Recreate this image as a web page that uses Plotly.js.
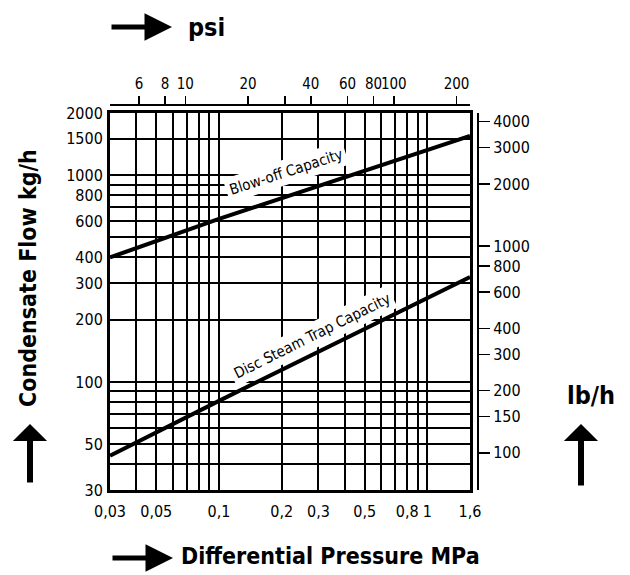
<!DOCTYPE html>
<html>
<head>
<meta charset="utf-8">
<script src="https://cdn.plot.ly/plotly-3.0.1.min.js"></script>
<style>html,body{margin:0;padding:0;background:#fff;}#chart{width:630px;height:575px;}</style>
</head>
<body>
<div id="chart"></div>
<script>
// ---- data ----
const pressureMPa = [0.03, 0.1, 1.6];
const blowOffKg = [400, 615, 1550];
const discTrapKg = [44, 81, 322];

const mpaTicks  = [0.03,0.04,0.05,0.06,0.07,0.08,0.09,0.1,0.2,0.3,0.4,0.5,0.6,0.7,0.8,0.9,1,1.6];
const mpaLabels = ['0,03','','0,05','','','','','0,1','0,2','0,3','','0,5','','','0,8','','1','1,6'];
const kgTicks   = [30,40,50,60,70,80,90,100,200,300,400,500,600,700,800,900,1000,1500,2000];
const kgLabels  = ['30','','50','','','','','100','200','300','400','','600','','800','','1000','1500','2000'];
const psiTicks  = [6,8,10,20,30,40,60,80,100,200];
const psiLabels = ['6','8','10','20','','40','60','80','100','200'];
const lbTicks   = [100,150,200,300,400,600,800,1000,2000,3000,4000];

const mpaRange = [0.03, 1.6];
const kgRange = [30, 2000];
const PSI_PER_MPA = 145.038;
const LB_PER_KG = 2.20462;

const FONT = '"Liberation Sans Narrow", "DejaVu Sans Condensed", "Arial Narrow", sans-serif';
const L = Math.log10;

const traces = [
  {x: pressureMPa, y: blowOffKg, mode: 'lines', line: {color: '#000', width: 4}, hoverinfo: 'skip', showlegend: false},
  {x: pressureMPa, y: discTrapKg, mode: 'lines', line: {color: '#000', width: 4}, hoverinfo: 'skip', showlegend: false},
  {x: mpaRange.map(v => v * PSI_PER_MPA), y: kgRange, xaxis: 'x2', yaxis: 'y', mode: 'lines', opacity: 0, hoverinfo: 'skip', showlegend: false},
  {x: mpaRange, y: kgRange.map(v => v * LB_PER_KG), xaxis: 'x', yaxis: 'y2', mode: 'lines', opacity: 0, hoverinfo: 'skip', showlegend: false}
];

const W = 420, H = 440, ML = 110, MT = 50;
const px = v => (v - ML) / W;        // pixel x -> paper
const py = v => (MT + H - v) / H;    // pixel y -> paper

const tickFont = {family: FONT, size: 16, color: '#000'};
const psiFont = {family: FONT, size: 15, color: '#000'};
const bold = {family: FONT, size: 23, color: '#000', weight: 'bold'};
const C = {xanchor: 'center', yanchor: 'middle'};

const layout = {
  width: 630, height: 575,
  margin: {l: ML, r: 630 - ML - W, t: MT, b: 575 - MT - H},
  paper_bgcolor: '#fff', plot_bgcolor: '#fff',
  showlegend: false,
  xaxis: {
    type: 'log', range: [L(mpaRange[0]), L(mpaRange[1])], domain: [0, 360 / W],
    tickvals: mpaTicks, ticktext: mpaLabels, ticks: '', ticklabelstandoff: 5, tickangle: 0,
    showgrid: true, gridcolor: '#000', gridwidth: 2,
    showline: true, linecolor: '#000', linewidth: 3, mirror: true,
    zeroline: false, tickfont: tickFont, fixedrange: true
  },
  yaxis: {
    type: 'log', range: [L(kgRange[0]), L(kgRange[1])], domain: [0, 377 / H],
    tickvals: kgTicks, ticktext: kgLabels, ticks: '', ticklabelstandoff: 1,
    showgrid: true, gridcolor: '#000', gridwidth: 2,
    showline: true, linecolor: '#000', linewidth: 3, mirror: true,
    zeroline: false, tickfont: tickFont, fixedrange: true
  },
  xaxis2: {
    type: 'log', overlaying: 'x', side: 'top', anchor: 'free', position: py(105),
    range: [L(mpaRange[0] * PSI_PER_MPA), L(mpaRange[1] * PSI_PER_MPA)],
    tickvals: psiTicks, ticktext: psiLabels, ticks: 'outside', ticklen: 8, tickwidth: 1.5, tickcolor: '#000',
    tickangle: 0, ticklabelstandoff: 1,
    showgrid: false, showline: true, linecolor: '#000', linewidth: 2,
    zeroline: false, tickfont: psiFont, fixedrange: true
  },
  yaxis2: {
    type: 'log', overlaying: 'y', side: 'right', anchor: 'free', position: px(478),
    range: [L(kgRange[0] * LB_PER_KG), L(kgRange[1] * LB_PER_KG)],
    tickvals: lbTicks, ticktext: lbTicks.map(String), ticks: 'outside', ticklen: 11, tickwidth: 1.5, tickcolor: '#000',
    showgrid: false, showline: true, linecolor: '#000', linewidth: 2,
    zeroline: false, tickfont: tickFont, fixedrange: true
  },
  annotations: [
    Object.assign({xref: 'x', yref: 'y', x: L(0.2096), y: 3.016, text: 'Blow-off Capacity', showarrow: false,
     textangle: -18, bgcolor: '#fff', borderpad: 3, font: {family: FONT, size: 15, color: '#000'}}, C),
    Object.assign({xref: 'x', yref: 'y', x: -0.554, y: 2.222, text: 'Disc Steam Trap Capacity', showarrow: false,
     textangle: -26.4, bgcolor: '#fff', borderpad: 3, font: {family: FONT, size: 15, color: '#000'}}, C),
    Object.assign({xref: 'paper', yref: 'paper', x: px(206), y: py(27), text: '<b>psi</b>', showarrow: false, font: Object.assign({}, bold, {size: 25})}, C),
    Object.assign({xref: 'paper', yref: 'paper', x: px(330), y: py(556), text: '<b>Differential Pressure MPa</b>', showarrow: false, font: bold}, C),
    Object.assign({xref: 'paper', yref: 'paper', x: px(28), y: py(278), text: '<b>Condensate Flow kg/h</b>', textangle: -90, showarrow: false, font: bold}, C),
    Object.assign({xref: 'paper', yref: 'paper', x: px(591), y: py(395), text: '<b>lb/h</b>', showarrow: false, font: Object.assign({}, bold, {size: 25})}, C),
    // arrows
    {xref: 'paper', yref: 'paper', x: px(172), y: py(27), ax: -62, ay: 0, text: '', showarrow: true, arrowhead: 2, arrowwidth: 5, arrowsize: 1.1, arrowcolor: '#000'},
    {xref: 'paper', yref: 'paper', x: px(173), y: py(558), ax: -62, ay: 0, text: '', showarrow: true, arrowhead: 2, arrowwidth: 5, arrowsize: 1.1, arrowcolor: '#000'},
    {xref: 'paper', yref: 'paper', x: px(30), y: py(424), ax: 0, ay: 60, text: '', showarrow: true, arrowhead: 1, arrowwidth: 6, arrowsize: 0.95, arrowcolor: '#000'},
    {xref: 'paper', yref: 'paper', x: px(581), y: py(424), ax: 0, ay: 63, text: '', showarrow: true, arrowhead: 1, arrowwidth: 6, arrowsize: 0.95, arrowcolor: '#000'}
  ]
};

Plotly.newPlot('chart', traces, layout, {staticPlot: true, displayModeBar: false});
</script>
</body>
</html>
